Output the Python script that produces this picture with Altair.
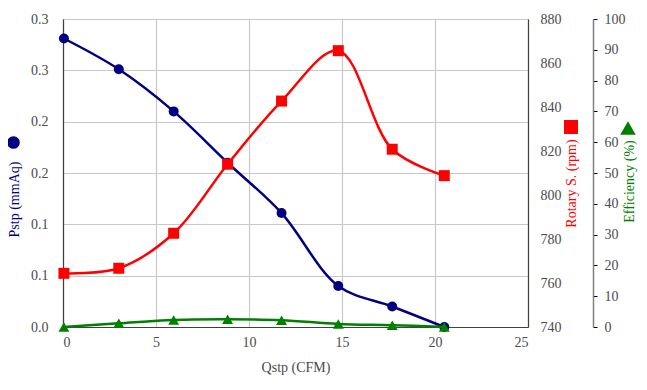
import json
import altair as alt
import pandas as pd

# ---- data ----
qstp = [0.05, 3.0, 5.95, 8.85, 11.75, 14.8, 17.7, 20.5]
pstp = [0.281, 0.251, 0.210, 0.160, 0.111, 0.040, 0.020, 0.0]
rpm = [764.4, 766.7, 782.6, 814.0, 842.7, 865.6, 820.8, 808.8]
eff = [0.0, 1.2, 2.3, 2.5, 2.2, 1.0, 0.6, 0.0]

x_ticks = [0, 5, 10, 15, 20, 25]
p_ticks = [0, 0.05, 0.1, 0.15, 0.2, 0.25, 0.3]
p_labels = ["0.0", "0.1", "0.1", "0.2", "0.2", "0.3", "0.3"]
rpm_ticks = [740, 760, 780, 800, 820, 840, 860, 880]
eff_ticks = [0, 10, 20, 30, 40, 50, 60, 70, 80, 90, 100]

df = pd.DataFrame({"Qstp": qstp, "Pstp": pstp, "RPM": rpm, "Eff": eff})

FONT = "Liberation Serif"
NAVY = "#000080"
RED = "#FF0000"
GREEN = "#008000"
LBL = "#4a4a4a"

common = dict(labelFont=FONT, titleFont=FONT, labelFontSize=14, titleFontSize=14,
              labelColor=LBL, titleFontWeight="normal")


def marker_legend(color, shape, size, lx, ly):
    return alt.Legend(
        orient="none", legendX=lx, legendY=ly, title=None, padding=0,
        symbolType=shape, symbolSize=size, labelExpr="''", labelOffset=0,
        symbolStrokeWidth=0, symbolFillColor=color, symbolStrokeColor=color,
        symbolOpacity=1,
    )


x_enc = alt.X(
    "Qstp:Q",
    scale=alt.Scale(domain=[0, 25], nice=False),
    axis=alt.Axis(
        values=x_ticks, title="Qstp (CFM)", grid=True, gridColor="#c8c8c8",
        gridWidth=1.2, tickSize=0, labelPadding=8, titlePadding=11,
        domainColor="#404040", domainWidth=1.2, titleColor=LBL, **common,
    ),
)

base = alt.Chart(df)

blue = base.transform_calculate(series="'Pstp'").mark_line(
    strokeWidth=2.5, interpolate="catmull-rom",
    point=alt.OverlayMarkDef(shape="circle", size=100, filled=True, color=NAVY, opacity=1),
).encode(
    x=x_enc,
    y=alt.Y(
        "Pstp:Q",
        scale=alt.Scale(domain=[0, 0.3], nice=False),
        axis=alt.Axis(
            values=p_ticks,
            labelExpr=json.dumps(p_labels) + "[round(datum.value*20)]",
            title="Pstp (mmAq)", titleColor=NAVY, grid=True,
            gridColor="#c8c8c8", gridWidth=1.2, tickSize=0, labelPadding=15,
            domainColor="#404040", domainWidth=1.2,
            titleBaseline="middle", titleX=-49, titleY=180, **common,
        ),
    ),
    color=alt.Color("series:N", scale=alt.Scale(range=[NAVY]),
                    legend=marker_legend(NAVY, "circle", 160, -56, 117)),
)

red = base.transform_calculate(series="'RPM'").mark_line(
    strokeWidth=2.5, interpolate="catmull-rom",
    point=alt.OverlayMarkDef(shape="square", size=121, filled=True, color=RED, opacity=1),
).encode(
    x=x_enc,
    y=alt.Y(
        "RPM:Q",
        scale=alt.Scale(domain=[740, 880], nice=False),
        axis=alt.Axis(
            orient="right", values=rpm_ticks, title="Rotary S. (rpm)",
            titleColor=RED, grid=False, tickSize=0, labelPadding=12,
            domainColor="#404040", domainWidth=1.2, titleAngle=270,
            titleBaseline="middle", titleX=43, titleY=164, **common,
        ),
    ),
    color=alt.Color("series:N", scale=alt.Scale(range=[RED]),
                    legend=marker_legend(RED, "square", 196, 501, 101)),
)

green = base.transform_calculate(series="'Eff'").mark_line(
    strokeWidth=2.5, interpolate="catmull-rom",
    point=alt.OverlayMarkDef(shape="triangle-up", size=120, filled=True, color=GREEN, opacity=1),
).encode(
    x=x_enc,
    y=alt.Y(
        "Eff:Q",
        scale=alt.Scale(domain=[0, 100], nice=False),
        axis=alt.Axis(
            orient="right", offset=65, values=eff_ticks, title="Efficiency (%)",
            titleColor=GREEN, grid=False, tickSize=4, tickColor="#000000",
            labelPadding=7, domainColor="#808080", domainWidth=1.5,
            titleAngle=270, titleBaseline="middle", titleX=36, titleY=162, **common,
        ),
    ),
    color=alt.Color("series:N", scale=alt.Scale(range=[GREEN]),
                    legend=marker_legend(GREEN, "triangle-up", 240, 557, 101)),
)

chart = (
    alt.layer(blue, red, green)
    .resolve_scale(y="independent", color="independent")
    .properties(
        width=465, height=308,
        autosize=alt.AutoSizeParams(type="none"),
        padding={"left": 55, "top": 11, "right": 111, "bottom": 55},
    )
    .configure(font=FONT)
    .configure_axis(labelFont=FONT, titleFont=FONT)
    .configure_view(stroke="#909090", strokeWidth=1)
)

chart.save("out.html", embed_options={"renderer": "svg", "actions": False})
